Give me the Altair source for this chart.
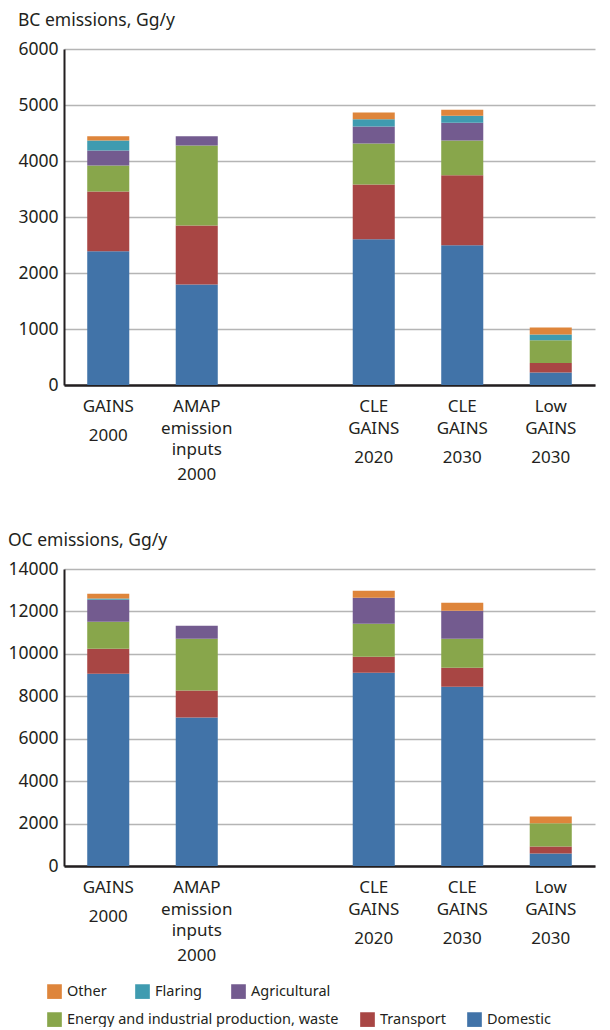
import altair as alt
import pandas as pd

FONT = "Noto Sans"
INK = "#231f20"

# Slots along the x axis; "gap" is an empty slot between the 2000 and future bars
scenarios = ["GAINS 2000", "AMAP 2000", "gap", "CLE 2020", "CLE 2030", "Low 2030"]
bar_scenarios = ["GAINS 2000", "AMAP 2000", "CLE 2020", "CLE 2030", "Low 2030"]

sectors = ["Domestic", "Transport", "Energy and industrial production, waste",
           "Agricultural", "Flaring", "Other"]
sector_colors = ["#4173a8", "#a84644", "#88a64b", "#735b8f", "#3f9bb0", "#de853b"]

# Black carbon emissions, Gg/y (one value per bar_scenarios entry)
bc_domestic = [2390, 1796, 2604, 2497, 221]
bc_transport = [1065, 1052, 976, 1248, 171]
bc_energy = [463, 1427, 731, 619, 405]
bc_agricultural = [268, 166, 303, 321, 0]
bc_flaring = [178, 0, 130, 125, 107]
bc_other = [77, 0, 120, 107, 125]

# Organic carbon emissions, Gg/y
oc_domestic = [9067, 6995, 9114, 8455, 589]
oc_transport = [1178, 1272, 754, 895, 329]
oc_energy = [1272, 2449, 1554, 1366, 1098]
oc_agricultural = [1036, 612, 1225, 1319, 0]
oc_flaring = [61, 0, 0, 0, 0]
oc_other = [222, 0, 330, 377, 316]

# Category labels under the axis, one list of lines per bar
scenario_lines = {
    "GAINS 2000": ["GAINS", "2000"],
    "AMAP 2000": ["AMAP", "emission", "inputs", "2000"],
    "CLE 2020": ["CLE", "GAINS", "2020"],
    "CLE 2030": ["CLE", "GAINS", "2030"],
    "Low 2030": ["Low", "GAINS", "2030"],
}
# baseline distance of each label line below the x axis (px)
line_offsets = {
    "GAINS 2000": [27, 56],
    "AMAP 2000": [27, 49, 70, 95],
    "CLE 2020": [27, 49, 78],
    "CLE 2030": [27, 49, 78],
    "Low 2030": [27, 49, 78],
}

legend_row1 = ["Other", "Flaring", "Agricultural"]
legend_row2 = ["Energy and industrial production, waste", "Transport", "Domestic"]

PLOT_W = 531


def legend_style(**kw):
    return alt.Legend(orient="none", direction="horizontal", columns=3, title=None,
                      symbolType="square", symbolSize=215, symbolStrokeWidth=0,
                      symbolOpacity=1, labelOffset=5, labelLimit=400, labelFont=FONT,
                      labelFontSize=14.5, labelColor=INK, padding=0, **kw)


def long_table(series):
    rows = []
    for order, (sector, vals) in enumerate(zip(sectors, series)):
        for sc, v in zip(bar_scenarios, vals):
            if v > 0:
                rows.append({"scenario": sc, "sector": sector, "value": v, "order": order})
    return pd.DataFrame(rows)


def panel(series, title, ymax, step, height, with_legend):
    df = long_table(series)
    x = alt.X(
        "scenario:N",
        scale=alt.Scale(domain=scenarios, paddingInner=0.525, paddingOuter=0.2625),
        axis=alt.Axis(labels=False, ticks=False, title=None, grid=False,
                      domainColor=INK, domainWidth=2.5),
    )
    y = alt.Y(
        "value:Q",
        stack="zero",
        scale=alt.Scale(domain=[0, ymax], nice=False),
        axis=alt.Axis(values=list(range(0, ymax + 1, step)), format="d", title=None,
                      ticks=False, labelPadding=6, labelFont=FONT, labelFontSize=17.5,
                      labelColor=INK, domainColor=INK, domainWidth=2,
                      gridColor="#b5b5b5", gridWidth=1.5),
    )
    leg = (legend_style(values=legend_row2, legendX=-17, legendY=443, columnPadding=21)
           if with_legend else None)
    bars = alt.Chart(df).mark_bar().encode(
        x=x,
        y=y,
        color=alt.Color("sector:N", scale=alt.Scale(domain=sectors, range=sector_colors),
                        legend=leg),
        order=alt.Order("order:Q", sort="ascending"),
    )
    layers = [bars]

    # category labels, grouped by their distance below the axis
    by_offset = {}
    for sc in bar_scenarios:
        for text, off in zip(scenario_lines[sc], line_offsets[sc]):
            by_offset.setdefault(off, []).append({"scenario": sc, "text": text})
    for off, rows in by_offset.items():
        layers.append(
            alt.Chart(pd.DataFrame(rows)).mark_text(
                font=FONT, fontSize=17, color=INK, baseline="alphabetic", align="center"
            ).encode(x=alt.X("scenario:N"), y=alt.value(height + off), text="text:N")
        )

    if with_legend:
        # second legend row (Other, Flaring, Agricultural) from an invisible layer
        row1 = df[df["sector"].isin(legend_row1)]
        layers.append(
            alt.Chart(row1).mark_square(opacity=0).encode(
                x=alt.X("scenario:N"),
                fill=alt.Fill(
                    "sector:N",
                    scale=alt.Scale(domain=legend_row1,
                                    range=[sector_colors[5], sector_colors[4], sector_colors[3]]),
                    legend=legend_style(legendX=-17, legendY=415, columnPadding=28),
                ),
            )
        )

    return alt.layer(*layers).properties(
        width=PLOT_W,
        height=height,
        title=alt.TitleParams(title, anchor="start", frame="bounds", font=FONT,
                              fontSize=17.5, fontWeight="normal", color=INK, offset=11),
    )


bc = panel([bc_domestic, bc_transport, bc_energy, bc_agricultural, bc_flaring, bc_other],
           "BC emissions, Gg/y", 6000, 1000, 336, False)
oc = panel([oc_domestic, oc_transport, oc_energy, oc_agricultural, oc_flaring, oc_other],
           "OC emissions, Gg/y", 14000, 2000, 297, True)

chart = alt.vconcat(bc, oc, spacing=48).resolve_scale(
    color="independent", fill="independent"
).resolve_legend(
    color="independent", fill="independent"
).properties(
    padding={"left": 7, "top": 11, "right": 10, "bottom": 0},
    background="white",
).configure_view(stroke=None)

chart.save("out.html", embed_options={"renderer": "svg", "actions": False})
